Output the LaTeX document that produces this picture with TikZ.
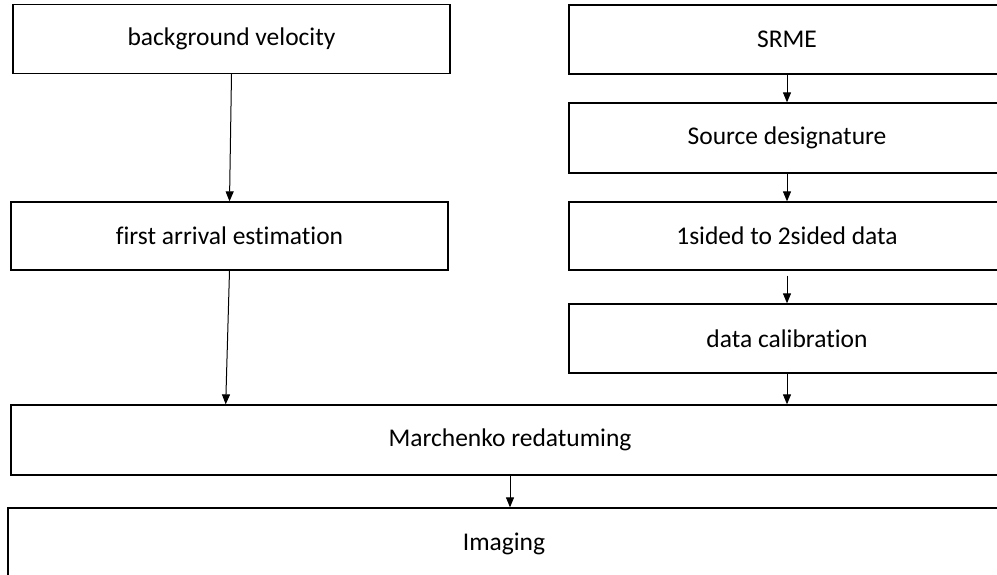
\documentclass[tikz,border=0pt]{standalone}
\usepackage{fontspec}
\setmainfont{Carlito}[Ligatures=NoCommon]
\usepackage{tikz}
\usetikzlibrary{arrows.meta,calc,positioning}

\tikzset{
  stagebox/.style={draw=black,line width=1.3pt,fill=white,inner sep=0pt,
    minimum height=69pt,font=\fontsize{25.5}{30}\selectfont},
  flowarrow/.style={line width=1pt,-{Triangle[length=10pt,width=8pt]}}
}

\begin{document}
\begin{tikzpicture}[x=1pt,y=-1pt]
		\useasboundingbox (0,0) rectangle (997,574);
		% left column
		\node[stagebox,minimum width=437pt] (bgvel) at (231.5,39) {background velocity};
		\node[stagebox,minimum width=437pt,minimum height=68pt] (firstarr) at (229.5,236) {first arrival estimation};
		% right column
		\node[stagebox,minimum width=436pt] (srme) at (787,39.5) {SRME};
		\node[stagebox,minimum width=436pt,minimum height=70pt] (srcdes) at (787,138) {Source designature};
		\node[stagebox,minimum width=436pt,minimum height=68pt] (twosided) at (787,236) {1sided to 2sided data};
		\node[stagebox,minimum width=436pt] (calib) at (787,338.5) {data calibration};
		% bottom
		\node[stagebox,minimum width=998pt,minimum height=70pt] (marchenko) at (510,440) {Marchenko redatuming};
		\node[stagebox,minimum width=992pt,minimum height=72pt] (imaging) at (504,544) {Imaging};
		% connectors
		\draw[flowarrow] (bgvel.south) -- (firstarr.north);
		\draw[flowarrow] (firstarr.south) -- ($(marchenko.north west)!0.2155!(marchenko.north east)$);
		\draw[flowarrow] (srme.south) -- (srcdes.north);
		\draw[flowarrow] (srcdes.south) -- (twosided.north);
		\draw[flowarrow,shorten <=5pt] (twosided.south) -- (calib.north);
		\draw[flowarrow] (calib.south) -- (calib.south |- marchenko.north);
		\draw[flowarrow] (marchenko.south) -- (marchenko.south |- imaging.north);
	\end{tikzpicture}
\end{document}
